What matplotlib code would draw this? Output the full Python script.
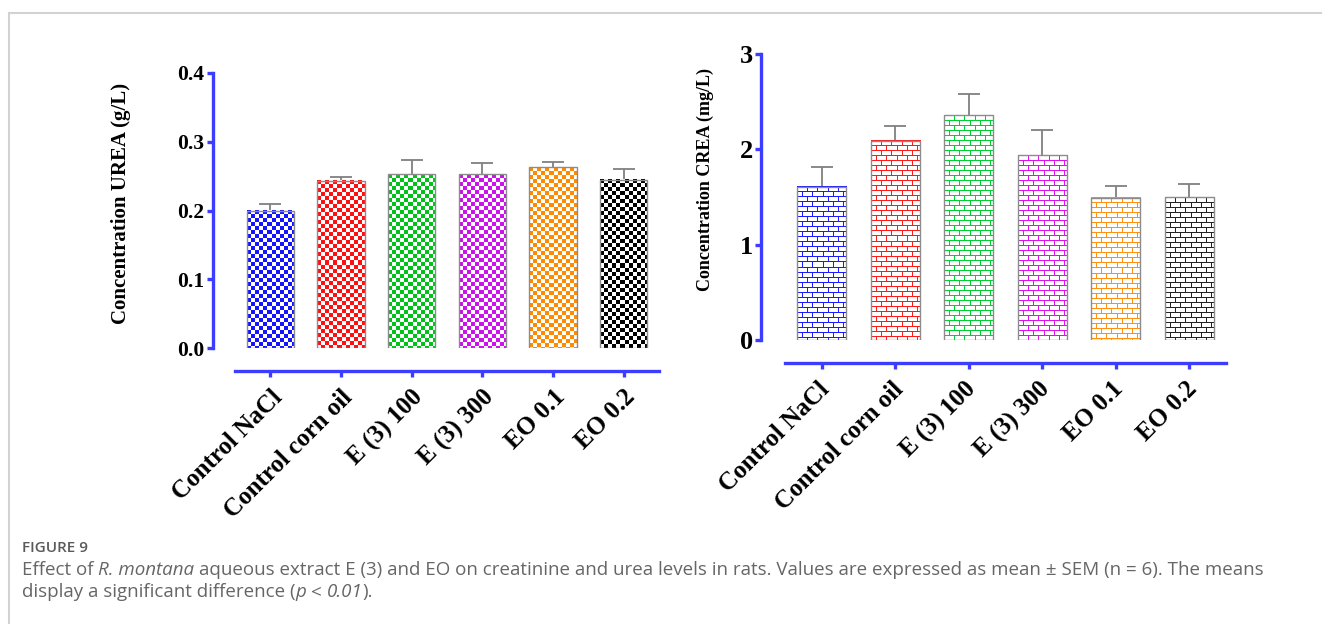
import numpy as np
import matplotlib
matplotlib.use("Agg")
import matplotlib.pyplot as plt
from matplotlib.colors import to_rgb
from matplotlib.lines import Line2D
from matplotlib.transforms import ScaledTranslation

# --- data: mean +/- SEM per group (n = 6) ---
groups = ["Control NaCl", "Control corn oil", "E (3) 100", "E (3) 300", "EO 0.1", "EO 0.2"]
urea_mean = [0.200, 0.243, 0.253, 0.253, 0.263, 0.245]
urea_sem = [0.010, 0.006, 0.020, 0.016, 0.008, 0.015]
crea_mean = [1.61, 2.09, 2.36, 1.94, 1.49, 1.50]
crea_sem = [0.20, 0.16, 0.22, 0.26, 0.13, 0.14]

urea_colors = ["#1414ff", "#ff1010", "#00c31a", "#cc10ee", "#ff8a00", "#000000"]
crea_colors = ["#1a1aff", "#ff1a1a", "#00d030", "#e010f0", "#ff9010", "#202020"]

AXIS_BLUE = "#3d3dff"
SERIF = ["Liberation Serif", "DejaVu Serif"]

W, H = 1322, 624
fig = plt.figure(figsize=(W / 100, H / 100), dpi=100)


def px_axes(left, top, right, bottom):
    return fig.add_axes([left / W, 1 - bottom / H, (right - left) / W, (bottom - top) / H])


def checker(h, w, color, cell=4):
    yy, xx = np.mgrid[0:h, 0:w]
    img = np.ones((h, w, 3))
    img[(yy // cell + xx // cell) % 2 == 0] = to_rgb(color)
    return img


def brick(h, w, color, bh=5, bw=10):
    yy, xx = np.mgrid[0:h, 0:w]
    shift = ((yy // bh) % 2) * (bw // 2)
    img = np.ones((h, w, 3))
    img[(yy % bh == 0) | ((xx + shift) % bw == 0)] = to_rgb(color)
    return img


def draw_panel(ax, means, sems, colors, pattern, ymax, yticks, fmt,
               tick_fs, ylabel, label_fs, label_xy, yoff, label_dx):
    x = np.arange(len(groups))
    ax.set_xlim(-0.5, 5.5)
    ax.set_ylim(0, ymax)

    bars = ax.bar(x, means, width=0.67, facecolor="none",
                  edgecolor="#8c8c8c", linewidth=1.0, zorder=3)
    # patterned fill clipped to each bar's rectangle
    for b, c in zip(bars, colors):
        x0, y0 = b.get_x(), b.get_y()
        x1, y1 = x0 + b.get_width(), y0 + b.get_height()
        (p0, q0), (p1, q1) = ax.transData.transform([(x0, y0), (x1, y1)])
        w, h = int(round(p1 - p0)), int(round(q1 - q0))
        ax.imshow(pattern(h, w, c), extent=(x0, x1, y0, y1), aspect="auto",
                  interpolation="nearest", zorder=2)

    eb = ax.errorbar(x, means, yerr=[np.zeros(len(means)), sems], fmt="none",
                     ecolor="#808080", elinewidth=1.3, capsize=8, capthick=1.3,
                     zorder=1)
    for cl in eb[1]:
        if np.allclose(cl.get_ydata(), means):
            cl.set_visible(False)

    for side in ("top", "right"):
        ax.spines[side].set_visible(False)
    for side in ("left", "bottom"):
        ax.spines[side].set_color(AXIS_BLUE)
        ax.spines[side].set_linewidth(2.4)
    ax.spines["left"].set_position(("outward", yoff))
    ax.spines["bottom"].set_position(("outward", 16.5))

    ax.set_yticks(yticks)
    ax.set_yticklabels([fmt.format(v) for v in yticks], fontsize=tick_fs,
                       fontweight="bold", family=SERIF)
    ax.tick_params(axis="both", color=AXIS_BLUE, width=2.4, length=4.5)
    ax.tick_params(axis="y", pad=1.5)

    ax.set_xticks(x)
    ax.set_xticklabels(groups, rotation=45, ha="right", va="top",
                       rotation_mode="anchor", fontsize=18, fontweight="bold",
                       family=SERIF)
    ax.tick_params(axis="x", pad=6)
    shift = ScaledTranslation(label_dx / 100, 0, fig.dpi_scale_trans)
    for lab in ax.get_xticklabels():
        lab.set_transform(lab.get_transform() + shift)

    ax.set_ylabel(ylabel, fontsize=label_fs, fontweight="bold", family=SERIF)
    ax.yaxis.set_label_coords(*label_xy)
    ax.patch.set_visible(False)


ax1 = px_axes(235, 73, 659, 348)
draw_panel(ax1, urea_mean, urea_sem, urea_colors, checker, 0.4,
           [0.0, 0.1, 0.2, 0.3, 0.4], "{:.1f}", 15.5, "Concentration UREA (g/L)",
           15, (-0.245, 0.525), 16, 0)

ax2 = px_axes(785, 54, 1226, 340)
draw_panel(ax2, crea_mean, crea_sem, crea_colors, brick, 3,
           [0, 1, 2, 3], "{:d}", 19, "Concentration CREA (mg/L)",
           13, (-0.16, 0.561), 17.3, -4)

# --- light frame around the figure panel ---
fig.add_artist(Line2D([9 / W, 1], [1 - 13 / H] * 2, color="#d2d2d2", lw=1.5,
                      transform=fig.transFigure))
fig.add_artist(Line2D([9 / W] * 2, [0, 1 - 13 / H], color="#d2d2d2", lw=1.5,
                      transform=fig.transFigure))

# --- caption with italic runs ---
renderer = fig.canvas.get_renderer()
CAP = dict(family=["Open Sans", "DejaVu Sans"], fontsize=13.5, color="#666666",
           va="baseline")


def text_width(s, **kw):
    t = fig.text(0, 0, s, **kw)
    w = t.get_window_extent(renderer).width
    t.remove()
    return w


def put_runs(x_px, y_px, runs):
    space = text_width("a a", **CAP) - text_width("aa", **CAP)
    x = x_px
    for s, style in runs:
        x += (len(s) - len(s.lstrip(" "))) * space
        body = s.strip(" ")
        if body:
            t = fig.text(x / W, 1 - y_px / H, body, style=style, **CAP)
            x += t.get_window_extent(renderer).width
            x += (len(s) - len(s.rstrip(" "))) * space


fig.text(22 / W, 1 - 552 / H, "FIGURE 9", family=["Open Sans", "DejaVu Sans"],
         fontsize=11, fontweight="semibold", color="#5a5a5a", va="baseline")
put_runs(22, 575, [
    ("Effect of ", "normal"),
    ("R. montana", "italic"),
    (" aqueous extract E (3) and EO on creatinine and urea levels in rats. "
     "Values are expressed as mean \u00b1 SEM (n = 6). The means", "normal"),
])
put_runs(22, 597, [
    ("display a significant difference (", "normal"),
    ("p", "italic"),
    (" < ", "normal"),
    ("0.01", "italic"),
    (").", "normal"),
])

fig.savefig("out.png", dpi=100)
